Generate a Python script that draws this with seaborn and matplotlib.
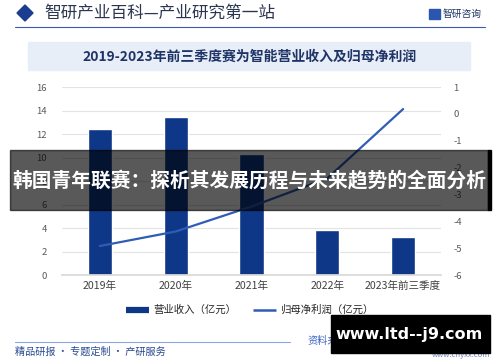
import matplotlib
matplotlib.use("Agg")
import matplotlib.pyplot as plt
import seaborn as sns
import pandas as pd
import numpy as np
from matplotlib.patches import Rectangle, Polygon
from matplotlib.lines import Line2D

# 数据
years = ["2019年", "2020年", "2021年", "2022年", "2023年前三季度"]
revenue = [12.4, 13.45, 10.3, 3.85, 3.2]        # 营业收入（亿元）
net_profit = [-4.92, -4.38, -3.45, -2.4, 0.18]  # 归母净利润（亿元）
left_ticks = [0, 2, 4, 6, 8, 10, 12, 14, 16]
right_ticks = [-6, -5, -4, -3, -2, -1, 0, 1]

sns.set_theme(style="white")
plt.rcParams['font.family'] = ['Noto Sans CJK SC', 'DejaVu Sans']
plt.rcParams['axes.unicode_minus'] = False

bar_color = "#0e3787"
line_color = "#2f5db5"
navy = "#1f3466"

df = pd.DataFrame({"year": years, "revenue": revenue,
                   "pos": range(len(years)), "profit": net_profit})

fig = plt.figure(figsize=(5, 3.62), dpi=100)
ax = fig.add_axes([0.124, 0.2403, 0.758, 0.5193])

sns.barplot(data=df, x="year", y="revenue", color=bar_color, width=0.32,
            saturation=1, ax=ax)
ax.set_xlim(-0.5, 4.5)
ax.set_ylim(0, 16)
ax.set_yticks(left_ticks)
ax.set_xlabel("")
ax.set_ylabel("")
ax.grid(axis="y", color="#e3e3e3", lw=0.8)
ax.set_axisbelow(True)
for s in ["top", "right", "left"]:
    ax.spines[s].set_visible(False)
ax.spines["bottom"].set_color("#d9d9d9")
ax.tick_params(axis="y", length=0, labelsize=6.8, labelcolor="#595959", pad=11)
ax.tick_params(axis="x", length=0, labelsize=7.6, labelcolor="#404040", pad=4)

ax2 = ax.twinx()
sns.lineplot(data=df, x="pos", y="profit", color=line_color, lw=1.6, ax=ax2)
ax2.set_ylim(-6, 1)
ax2.set_yticks(right_ticks)
ax2.set_ylabel("")
ax2.set_xlabel("")
for s in ["top", "right", "left", "bottom"]:
    ax2.spines[s].set_visible(False)
ax2.tick_params(axis="y", length=0, labelsize=6.8, labelcolor="#595959", pad=9)
ax2.grid(False)

# 图例
handles = [Line2D([], [], color=bar_color, lw=4.5, solid_capstyle="butt"),
           Line2D([], [], color=line_color, lw=1.8, solid_capstyle="butt")]
fig.legend(handles, ["营业收入（亿元）", "归母净利润（亿元）"], loc="center",
           bbox_to_anchor=(0.5, 1 - 310 / 362), ncol=2, frameon=False,
           fontsize=7.5, handlelength=2.2, handletextpad=0.4, columnspacing=1.6)

# 页眉
W, H = 500, 362
def fx(x): return x / W
def fy(y): return 1 - y / H

fig.patches.append(Polygon([[fx(17), fy(13)], [fx(25), fy(5)], [fx(33), fy(13)], [fx(25), fy(21)]],
                           closed=True, color="#1b3d8f", transform=fig.transFigure))
fig.text(fx(44), fy(13), "智研产业百科—产业研究第一站", fontsize=12, color="#2b3550",
         va="center", ha="left")
fig.add_artist(Line2D([fx(15), fx(485)], [fy(27), fy(27)], color="#3b5bab", lw=0.8,
                      transform=fig.transFigure))
fig.patches.append(Rectangle((fx(429), fy(19)), fx(11), 10 / H, color="#2a56b0",
                             transform=fig.transFigure))
fig.text(fx(443), fy(14), "智研咨询", fontsize=7, color="#1f3466", va="center", ha="left")

fig.patches.append(Rectangle((fx(28), fy(70)), fx(442), 28 / H, color="#e8eef8",
                             transform=fig.transFigure, zorder=0))
fig.text(fx(250), fy(57), "2019-2023年前三季度赛为智能营业收入及归母净利润", fontsize=10,
         fontweight="bold", color=navy, va="center", ha="center")

# 页脚
fig.add_artist(Line2D([fx(15), fx(290)], [fy(342), fy(342)], color="#8aa6dc", lw=0.8,
                      transform=fig.transFigure))
fig.text(fx(15), fy(352), "精品研报 · 专题定制 · 产研服务", fontsize=7.3, color="#2a4a90",
         va="center", ha="left")
fig.text(fx(490), fy(341), "资料来源：公司公告，智研产业百科整理", fontsize=7.3, color="#3a62c0",
         va="center", ha="right")
fig.text(fx(490), fy(355), "www.chyxx.com", fontsize=5.5, color="#6f86c0",
         va="center", ha="right")

# 覆盖横幅
fig.patches.append(Rectangle((fx(10), fy(210)), fx(478), 60 / H, color="black", alpha=0.65,
                             transform=fig.transFigure, zorder=10))
fig.patches.append(Rectangle((fx(488), fy(210)), fx(3), 60 / H, color="black",
                             transform=fig.transFigure, zorder=10))
fig.text(fx(249), fy(181), "韩国青年联赛：探析其发展历程与未来趋势的全面分析", fontsize=14.2,
         fontweight="bold", color="white", va="center", ha="center", zorder=11)

fig.patches.append(Rectangle((fx(331), fy(353)), fx(159), 38 / H, color="black",
                             transform=fig.transFigure, zorder=10))
fig.text(fx(409), fy(335), "www.ltd--j9.com", fontsize=11.5, fontweight="bold",
         color="white", va="center", ha="center", zorder=11, family="DejaVu Sans")

fig.savefig("out.png", dpi=100)
